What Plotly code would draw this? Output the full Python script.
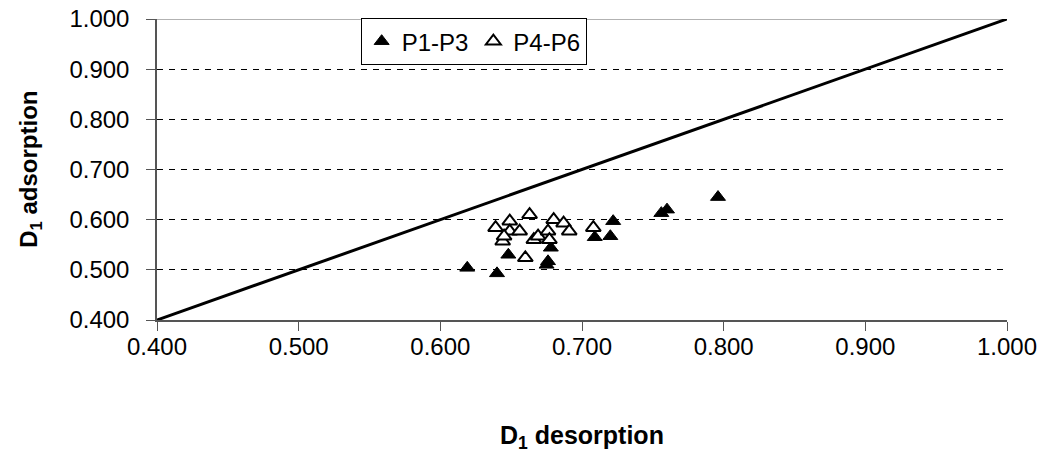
import plotly.graph_objects as go

# Data
p13_x = [0.619, 0.640, 0.648, 0.678, 0.676, 0.675, 0.709, 0.720, 0.722, 0.756, 0.760, 0.796]
p13_y = [0.504, 0.493, 0.530, 0.544, 0.517, 0.510, 0.565, 0.567, 0.597, 0.613, 0.620, 0.645]

p46_x = [0.639, 0.649, 0.649, 0.656, 0.644, 0.645, 0.660, 0.663, 0.666, 0.669, 0.676, 0.677, 0.680, 0.687, 0.691, 0.708]
p46_y = [0.584, 0.597, 0.577, 0.577, 0.557, 0.567, 0.524, 0.610, 0.560, 0.567, 0.577, 0.560, 0.600, 0.593, 0.577, 0.584]

line_x = [0.4, 1.0]
line_y = [0.4, 1.0]

tick_vals = [0.4, 0.5, 0.6, 0.7, 0.8, 0.9, 1.0]
tick_text = ["0.400", "0.500", "0.600", "0.700", "0.800", "0.900", "1.000"]

FONT = "Liberation Sans, Arial, sans-serif"

fig = go.Figure()
fig.add_trace(go.Scatter(x=line_x, y=line_y, mode="lines",
                         line=dict(color="black", width=3), showlegend=False,
                         hoverinfo="skip"))
fig.add_trace(go.Scatter(x=p13_x, y=p13_y, mode="markers", name="P1-P3",
                         marker=dict(symbol="triangle-up", size=13, color="black",
                                     line=dict(color="black", width=1))))
fig.add_trace(go.Scatter(x=p46_x, y=p46_y, mode="markers", name="P4-P6",
                         marker=dict(symbol="triangle-up", size=13, color="white",
                                     line=dict(color="black", width=2))))

axis_common = dict(
    range=[0.4, 1.0], tickvals=tick_vals, ticktext=tick_text,
    showline=True, linecolor="#555555", linewidth=1.5,
    ticks="outside", ticklen=9, tickcolor="#555555", tickwidth=1,
    tickfont=dict(family=FONT, size=24, color="black"),
    zeroline=False, automargin=False,
)

fig.update_xaxes(**axis_common, showgrid=False, ticklabelstandoff=-5)
fig.update_yaxes(**axis_common, showgrid=True, gridcolor="black", gridwidth=1,
                 griddash="6px,6px", ticklabelstandoff=12)

fig.update_layout(
    width=1048, height=459,
    margin=dict(l=157, r=41, t=19, b=139, autoexpand=False),
    paper_bgcolor="white", plot_bgcolor="white",
    font=dict(family=FONT, color="black"),
    showlegend=True,
    legend=dict(orientation="h", x=0.2396, y=1.003, xanchor="left", yanchor="top",
                bgcolor="white", bordercolor="black", borderwidth=1,
                font=dict(family=FONT, size=24, color="black"),
                itemwidth=30, tracegroupgap=0),
    shapes=[dict(type="line", xref="paper", yref="y", x0=0, x1=1, y0=1.0, y1=1.0,
                 line=dict(color="#999999", width=1.5), layer="below")],
    annotations=[
        dict(text="<b>D<sub>1</sub> desorption</b>", xref="paper", yref="paper",
             x=0.5, y=-0.389, xanchor="center", yanchor="middle", showarrow=False,
             font=dict(family=FONT, size=25, color="black")),
        dict(text="<b>D<sub>1</sub> adsorption</b>", xref="paper", yref="paper",
             x=-0.149, y=0.5, xanchor="center", yanchor="middle", showarrow=False,
             textangle=-90, font=dict(family=FONT, size=24, color="black")),
    ],
)

fig.write_html("out.html")
